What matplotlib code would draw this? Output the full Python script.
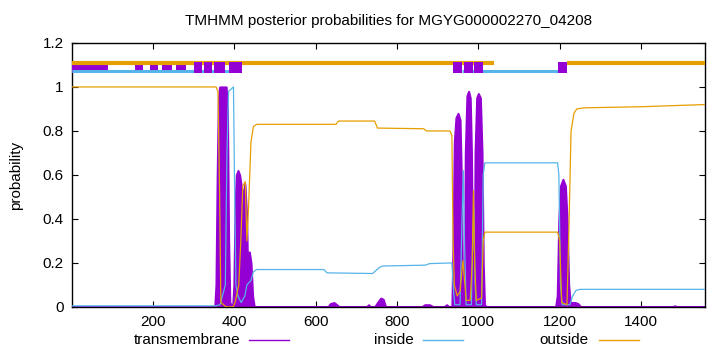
import matplotlib
matplotlib.use("Agg")
import matplotlib.pyplot as plt

plt.rcParams['font.family'] = ['Liberation Sans', 'DejaVu Sans']
plt.rcParams['font.size'] = 11

TITLE = "TMHMM posterior probabilities for MGYG000002270_04208"
SEQ_LEN = 1557

PURPLE = "#9400d3"
BLUE = "#56b4e9"
ORANGE = "#e69f00"

# posterior probability curves, (position, value)
tm_pos = [1, 352, 355, 358, 361, 364, 380, 383, 386, 389, 396, 399, 402, 405,
          409, 413, 417, 421, 426, 430, 433, 437, 441, 445, 449, 630, 636, 645,
          652, 658, 725, 730, 735, 745, 752, 760, 766, 772, 860, 868, 880, 890,
          915, 922, 928, 935, 938, 941, 945, 950, 955, 958, 961, 963, 966, 968,
          972, 976, 980, 983, 986, 988, 990, 992, 996, 1000, 1005, 1009, 1012,
          1015, 1020, 1190, 1194, 1198, 1202, 1208, 1214, 1218, 1222, 1226,
          1238, 1245, 1252, 1475, 1483, 1490, SEQ_LEN]
tm_val = [0, 0, 0.1, 0.6, 0.95, 1.0, 1.0, 0.9, 0.3, 0.02, 0.0, 0.1, 0.45, 0.6,
          0.62, 0.6, 0.55, 0.5, 0.56, 0.42, 0.15, 0.25, 0.2, 0.05, 0.0, 0.0,
          0.015, 0.02, 0.01, 0.0, 0.0, 0.01, 0.0, 0.0, 0.02, 0.04, 0.035, 0.0,
          0.0, 0.01, 0.01, 0.0, 0.0, 0.01, 0.0, 0.0, 0.3, 0.75, 0.86, 0.88,
          0.85, 0.6, 0.1, 0.02, 0.1, 0.7, 0.96, 0.98, 0.95, 0.7, 0.1, 0.02, 0.1,
          0.7, 0.95, 0.97, 0.95, 0.7, 0.2, 0.01, 0.0, 0.0, 0.05, 0.4, 0.55,
          0.58, 0.55, 0.4, 0.1, 0.02, 0.02, 0.015, 0.0, 0.0, 0.005, 0.0, 0.0]

in_pos = [1, 355, 365, 378, 382, 386, 398, 401, 404, 409, 417, 426, 431, 441,
          447, 455, 620, 628, 740, 757, 765, 870, 880, 935, 938, 942, 955, 960,
          963, 966, 970, 983, 986, 989, 992, 995, 1008, 1012, 1016, 1195, 1198,
          1202, 1206, 1225, 1232, 1240, 1250, SEQ_LEN]
in_val = [0.005, 0.005, 0.01, 0.1, 0.7, 0.98, 1.0, 0.5, 0.1, 0.05, 0.02, 0.05,
          0.1, 0.12, 0.16, 0.17, 0.17, 0.155, 0.152, 0.18, 0.186, 0.19, 0.197,
          0.2, 0.1, 0.01, 0.01, 0.4, 0.62, 0.3, 0.01, 0.01, 0.3, 0.45, 0.1,
          0.01, 0.01, 0.6, 0.655, 0.655, 0.6, 0.1, 0.01, 0.01, 0.05, 0.075,
          0.08, 0.08]

out_pos = [1, 355, 360, 364, 367, 380, 397, 402, 411, 416, 421, 427, 431, 435,
           441, 447, 455, 650, 656, 745, 752, 866, 872, 930, 935, 938, 941, 948,
           955, 962, 965, 970, 980, 985, 988, 991, 995, 1008, 1012, 1016, 1195,
           1200, 1205, 1218, 1222, 1228, 1235, 1242, 1260, 1400, SEQ_LEN]
out_val = [1.0, 1.0, 0.98, 0.5, 0.02, 0.0, 0.0, 0.02, 0.1, 0.3, 0.55, 0.57,
           0.3, 0.45, 0.75, 0.82, 0.83, 0.83, 0.845, 0.845, 0.813, 0.81, 0.80,
           0.80, 0.78, 0.3, 0.1, 0.05, 0.07, 0.21, 0.15, 0.03, 0.03, 0.2, 0.53,
           0.2, 0.03, 0.04, 0.3, 0.34, 0.34, 0.3, 0.02, 0.01, 0.3, 0.8, 0.88,
           0.9, 0.905, 0.91, 0.92]

# predicted topology bars at the top
outside_segs = [(1, 1039), (1217, SEQ_LEN)]
inside_segs = [(1, 398), (960, 1195)]
tm_segs = [(2, 89), (155, 175), (193, 213), (222, 247), (257, 282), (301, 321),
           (326, 344), (351, 378), (388, 420), (938, 960), (965, 987),
           (989, 1012), (1195, 1217)]

fig = plt.figure(figsize=(7.2, 3.52), dpi=100)
ax = fig.add_axes([0.1, 0.128, 0.879, 0.75])

ax.fill_between(tm_pos, 0, tm_val, color=PURPLE, lw=1.5, zorder=2)
ax.plot(in_pos, in_val, color=BLUE, lw=0.9, zorder=3)
ax.plot(out_pos, out_val, color=ORANGE, lw=0.9, zorder=3)

for a, b in tm_segs:
    z = 4 if a < 300 else 6
    ax.fill_between([a, b], 1.065, 1.113, color=PURPLE, lw=0, zorder=z)
for a, b in outside_segs:
    ax.plot([a, b], [1.109, 1.109], color=ORANGE, lw=3, solid_capstyle='butt', zorder=5)
for a, b in inside_segs:
    ax.plot([a, b], [1.072, 1.072], color=BLUE, lw=2.2, solid_capstyle='butt', zorder=5)

ax.set_xlim(1, SEQ_LEN)
ax.set_ylim(0, 1.2)
ax.set_xticks([200, 400, 600, 800, 1000, 1200, 1400])
ax.set_yticks([0, 0.2, 0.4, 0.6, 0.8, 1.0, 1.2])
ax.set_yticklabels(["0", "0.2", "0.4", "0.6", "0.8", "1", "1.2"])
ax.tick_params(direction='in', length=4, width=0.8, top=True, right=True, pad=6)
for s in ax.spines.values():
    s.set_linewidth(1)

ax.set_title(TITLE, fontsize=11, pad=13)
ax.set_ylabel("probability", labelpad=14)

# legend row below the axis, gnuplot style (text then sample)
legend_items = [("transmembrane", PURPLE, 240, 249), ("inside", BLUE, 414, 423),
                ("outside", ORANGE, 589, 599)]
for label, col, tx, lx in legend_items:
    fig.text(tx / 720, 1 - 340 / 352, label, ha='right', va='center')
    fig.add_artist(plt.Line2D([lx / 720, (lx + 40) / 720], [1 - 340 / 352] * 2,
                              color=col, lw=1, transform=fig.transFigure))

fig.savefig("out.png", dpi=100)
